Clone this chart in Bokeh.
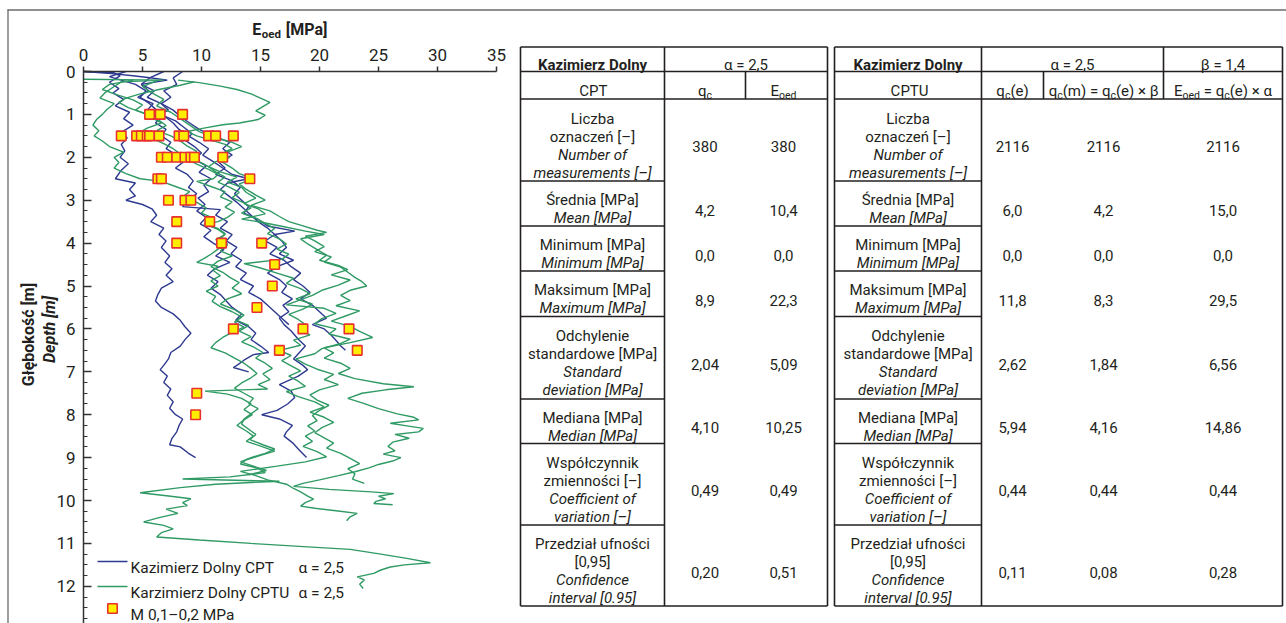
from bokeh.plotting import figure
from bokeh.models import Range1d, LinearAxis, FixedTicker, ColumnDataSource
from bokeh.core.properties import value
from bokeh.embed import file_html
from bokeh.resources import INLINE

FONT = "Roboto"
BLUE = "#2e3a8f"
GREEN = "#2f9a64"
INK = "#231f20"

# ---------------- profiles: (depth [m], E_oed [MPa]) ----------------
cpt_1 = [(0.0,0.0),(0.03,2.6),(0.1,3.1),(0.25,2.2),(0.4,3.0),(0.5,2.5),(0.65,3.4),(0.8,2.7),(0.95,3.9),(1.1,3.4),(1.25,4.2),(1.4,3.3),(1.55,3.7),(1.7,3.2),(1.85,3.5),(2.0,3.1),(2.15,3.8),(2.3,3.2),(2.5,2.7),(2.6,4.4),(2.75,3.9),(2.9,4.4),(3.0,3.6),(3.1,5.0),(3.2,5.8),(3.35,6.2),(3.5,5.7),(3.65,6.8),(3.8,6.4),(3.95,7.0),(4.1,6.6),(4.3,7.3),(4.45,6.9),(4.6,7.5),(4.75,7.0),(4.9,7.6),(5.05,6.6),(5.2,6.3),(5.35,6.1),(5.5,6.6),(5.65,7.6),(5.8,8.2),(5.95,8.6),(6.1,9.1),(6.25,8.6),(6.4,8.2),(6.55,7.4),(6.7,7.2),(6.85,6.8),(6.95,6.5),(7.1,7.1),(7.25,6.8),(7.4,7.4),(7.55,7.1),(7.7,7.6),(7.85,7.3),(8.0,7.8),(8.1,8.4),(8.25,8.1),(8.4,7.9),(8.55,7.5),(8.7,7.3),(8.75,8.2),(8.9,8.9),(9.0,9.5)]
cpt_2 = [(0.0,8.4),(0.15,7.6),(0.3,7.9),(0.45,6.8),(0.6,7.4),(0.75,6.6),(0.9,7.2),(1.0,6.5),(1.15,7.8),(1.3,8.5),(1.45,9.2),(1.6,8.6),(1.75,9.4),(1.9,10.0),(2.05,9.4),(2.2,10.4),(2.35,9.8),(2.5,10.8),(2.65,10.2),(2.8,10.6),(2.95,9.7),(3.1,10.3),(3.25,9.6),(3.4,10.4),(3.55,9.9),(3.7,10.8),(3.85,10.2),(4.0,11.0),(4.15,11.9),(4.3,11.2),(4.45,12.4),(4.6,11.1),(4.75,10.5),(4.9,11.4),(5.05,10.8),(5.2,11.6),(5.35,12.1),(5.5,12.6),(5.65,13.4),(5.8,12.9),(5.95,14.0),(6.1,14.6),(6.25,14.2),(6.4,15.0),(6.55,15.7),(6.6,14.4),(6.73,13.6),(6.85,13.0),(6.9,12.7),(7.0,14.0)]
cpt_3 = [(0.0,6.8),(0.15,5.6),(0.3,4.9),(0.45,6.0),(0.6,5.4),(0.75,6.6),(0.9,7.6),(1.05,8.2),(1.2,9.0),(1.35,9.8),(1.5,11.0),(1.65,12.4),(1.8,11.8),(1.95,12.6),(2.1,11.4),(2.25,12.0),(2.4,11.2),(2.55,12.6),(2.7,13.3),(2.85,12.8),(3.0,13.4),(3.15,14.0),(3.3,13.6),(3.45,14.8),(3.6,15.6),(3.72,17.9),(3.8,16.2),(3.95,16.8),(4.1,17.2),(4.25,16.6),(4.4,17.8),(4.55,16.4),(4.7,15.6),(4.85,16.6),(5.0,17.2),(5.15,16.8),(5.3,17.7),(5.45,16.9),(5.6,17.4),(5.75,16.6),(5.9,17.0),(6.05,17.6),(6.24,18.2),(6.4,18.8),(6.55,18.3),(6.7,17.8),(6.85,18.6),(6.95,19.0),(7.1,18.2),(7.3,16.6),(7.45,17.6),(7.6,17.9),(7.75,17.3),(7.9,16.4),(8.0,15.1),(8.1,16.6),(8.25,17.7),(8.4,17.2),(8.5,17.0),(8.65,17.7),(8.8,18.2),(9.0,18.9)]
cpt_4 = [(0.0,3.6),(0.12,2.2),(0.3,4.4),(0.45,5.3),(0.6,4.8),(0.75,5.6),(0.9,6.2),(1.05,6.9),(1.2,7.6),(1.35,8.1),(1.5,8.9),(1.65,9.8),(1.8,10.6),(1.95,10.1),(2.1,11.0),(2.25,11.8),(2.4,12.6),(2.5,14.0),(2.6,12.2),(2.75,11.6),(2.9,12.3),(3.05,13.0),(3.2,13.6),(3.35,14.2),(3.5,14.8),(3.65,15.6),(3.8,16.2),(3.95,15.4),(4.1,16.4),(4.25,15.8),(4.4,17.0),(4.55,17.6),(4.7,18.4),(4.85,17.8),(5.0,18.6),(5.15,19.2),(5.3,18.4),(5.45,19.4),(5.6,20.0),(5.75,20.6),(5.9,19.4),(6.0,20.4),(6.15,21.0),(6.3,21.5),(6.4,21.8),(6.5,22.2)]
cpt_5 = [(0.0,0.0),(0.05,2.4),(0.1,4.2),(0.15,5.8),(0.2,7.1),(0.3,4.9),(0.45,5.5),(0.6,4.6),(0.75,5.9),(0.9,5.4),(1.05,6.6),(1.2,6.1),(1.35,7.0),(1.5,6.6),(1.65,7.4),(1.8,7.0),(1.95,7.9),(2.1,8.5),(2.25,7.8),(2.4,8.8),(2.55,9.3),(2.7,8.9),(2.85,9.6),(3.0,8.8),(3.15,8.4),(3.22,11.6),(3.35,11.2),(3.5,12.2),(3.65,11.6),(3.8,12.6),(3.95,12.1),(4.1,13.0),(4.25,12.5),(4.4,13.4),(4.55,12.9),(4.7,13.8),(4.85,13.3),(5.0,14.4),(5.15,14.0),(5.3,15.0),(5.45,15.6),(5.6,16.2),(5.75,16.8),(5.9,17.4)]

cptu_1 = [(0.18,0.0),(0.2,6.8),(0.24,3.2),(0.35,2.6),(0.5,1.8),(0.62,1.4),(0.75,2.6),(0.88,2.0),(1.0,1.6),(1.12,1.1),(1.25,0.8),(1.38,1.3),(1.5,0.9),(1.62,1.6),(1.75,2.2),(1.88,3.4),(2.0,2.6),(2.12,3.0),(2.25,2.6),(2.38,3.6),(2.5,4.8),(2.56,6.6),(2.68,7.8),(2.8,9.0),(2.92,8.4),(3.05,9.6),(3.18,10.4),(3.3,10.0),(3.42,11.0),(3.55,10.3),(3.68,11.4),(3.8,12.0),(3.92,11.2),(4.05,12.2),(4.18,11.6),(4.3,12.6),(4.42,11.4),(4.55,10.8),(4.68,11.8),(4.8,12.4),(4.92,13.2),(5.05,12.6),(5.18,13.4),(5.3,12.2),(5.42,11.6),(5.55,12.8),(5.68,13.6),(5.8,13.0),(5.92,14.0),(6.05,13.2),(6.18,14.2),(6.3,13.4),(6.42,14.4),(6.55,15.2),(6.68,14.6),(6.8,15.4),(6.92,16.0),(7.05,15.2),(7.18,15.8),(7.3,14.8),(7.4,15.6),(7.45,10.3),(7.52,12.2),(7.62,13.4),(7.75,14.2),(7.88,13.6),(8.0,14.3),(8.12,13.6),(8.25,13.0),(8.38,13.8),(8.5,14.4),(8.62,13.8),(8.75,15.2),(8.85,16.2),(8.95,15.0),(9.05,13.8),(9.15,13.3),(9.25,14.8),(9.35,15.4),(9.45,12.4),(9.5,8.4),(9.55,16.6),(9.62,11.2),(9.7,8.2),(9.82,4.8),(9.9,7.4),(9.96,9.1),(10.05,8.4),(10.12,8.8),(10.2,7.0),(10.3,8.0),(10.4,6.4),(10.5,5.1),(10.58,6.8),(10.66,7.6),(10.75,6.6),(10.85,6.2),(10.92,9.8),(11.0,14.2),(11.08,19.0),(11.14,22.6),(11.25,25.2),(11.35,27.4),(11.45,29.4),(11.5,27.2),(11.55,26.0),(11.62,25.2),(11.7,24.6),(11.78,23.2),(11.85,23.8),(11.95,23.4),(12.05,23.7)]
cptu_2 = [(0.2,8.0),(0.26,9.8),(0.34,11.6),(0.42,13.0),(0.52,14.2),(0.62,15.0),(0.72,15.8),(0.82,15.2),(0.92,14.6),(1.02,15.4),(1.12,14.8),(1.2,13.2),(1.24,11.8),(1.32,10.2),(1.4,8.8),(1.5,9.6),(1.6,10.8),(1.7,12.0),(1.8,12.6),(1.9,11.8),(2.0,12.4),(2.1,11.2),(2.22,10.6),(2.34,11.6),(2.46,13.0),(2.58,12.2),(2.7,13.4),(2.82,13.8),(2.95,14.6),(3.08,13.6),(3.2,14.8),(3.32,15.4),(3.44,13.4),(3.52,15.2),(3.62,17.0),(3.72,18.8),(3.8,20.4),(3.9,18.4),(4.02,19.0),(4.15,19.8),(4.28,20.6),(4.4,20.0),(4.52,21.6),(4.62,22.4),(4.74,21.0),(4.86,22.6),(4.98,21.6),(5.1,20.2),(5.22,19.4),(5.34,18.2),(5.44,17.2),(5.52,20.4),(5.64,21.4),(5.76,20.2),(5.88,19.6),(6.0,21.4),(6.12,20.8),(6.24,22.6),(6.34,21.8),(6.46,20.2),(6.58,19.6),(6.7,18.0),(6.82,18.8),(6.94,19.8),(7.06,21.2),(7.18,20.4),(7.3,21.6),(7.42,20.0),(7.54,19.2),(7.66,19.8),(7.78,20.8),(7.9,20.0),(8.02,19.4),(8.14,19.8),(8.26,19.0),(8.38,19.6),(8.5,18.8),(8.62,19.4),(8.74,18.6),(8.86,19.8),(8.98,20.6),(9.1,18.8),(9.2,16.4),(9.32,13.3),(9.42,14.6),(9.52,15.6),(9.62,17.2),(9.72,17.8),(9.8,18.4),(9.9,19.0),(9.97,19.5),(10.05,18.8),(10.13,18.4),(10.18,19.6),(10.24,21.4),(10.3,23.2),(10.38,22.6),(10.47,22.3)]
cptu_3 = [(0.22,6.2),(0.35,5.0),(0.5,5.8),(0.65,6.8),(0.8,6.2),(0.95,7.4),(1.1,8.2),(1.25,9.0),(1.4,9.8),(1.55,11.2),(1.65,12.6),(1.75,13.4),(1.88,12.2),(2.0,11.4),(2.12,11.8),(2.25,12.6),(2.38,13.2),(2.5,14.4),(2.62,13.2),(2.75,13.8),(2.88,14.6),(3.0,15.4),(3.12,14.2),(3.25,15.8),(3.38,16.6),(3.5,17.4),(3.6,18.6),(3.7,19.8),(3.75,20.6),(3.84,18.8),(3.95,19.6),(4.08,20.4),(4.2,19.6),(4.32,21.0),(4.44,20.4),(4.56,21.8),(4.68,22.4),(4.8,23.0),(4.9,23.6),(5.0,24.0),(5.1,22.6),(5.22,21.8),(5.34,22.6),(5.46,21.4),(5.58,23.4),(5.7,22.2),(5.82,21.0),(5.94,22.6),(6.06,23.4),(6.2,24.5),(6.32,22.6),(6.44,20.4),(6.56,21.2),(6.68,20.4),(6.8,21.8),(6.92,22.6),(7.04,21.6),(7.16,23.0),(7.28,25.4),(7.35,28.0),(7.42,25.6),(7.5,23.6),(7.62,22.4),(7.74,23.8),(7.86,25.0),(7.98,26.6),(8.06,28.0),(8.12,28.4),(8.2,26.0),(8.26,27.4),(8.32,28.8),(8.4,28.4),(8.46,26.4),(8.55,27.6),(8.64,26.2),(8.74,25.8),(8.84,26.4),(8.92,25.4),(9.0,26.9),(9.08,26.2),(9.16,25.0),(9.24,24.2),(9.33,23.0),(9.42,21.6),(9.52,20.0),(9.6,18.6),(9.67,17.8),(9.74,20.8),(9.8,24.4),(9.84,26.3),(9.9,25.0),(9.96,25.6),(10.02,24.8),(10.07,24.6),(10.1,26.2)]
cptu_4 = [(0.24,9.4),(0.32,8.2),(0.42,6.4),(0.52,4.8),(0.62,3.6),(0.72,3.0),(0.84,3.8),(0.96,5.0),(1.08,5.8),(1.2,6.6),(1.32,5.4),(1.44,4.6),(1.56,5.8),(1.68,6.8),(1.8,7.6),(1.92,8.2),(2.04,8.8),(2.16,9.6),(2.28,10.6),(2.4,11.4),(2.5,11.0),(2.56,9.6),(2.68,10.8),(2.8,12.0),(2.92,11.6),(3.04,12.6),(3.16,12.0),(3.28,12.8),(3.4,12.2),(3.5,11.4),(3.56,10.2),(3.66,11.4),(3.78,12.0),(3.9,11.6),(4.02,12.2),(4.14,11.4),(4.26,10.8),(4.36,10.2),(4.45,9.6),(4.54,11.4),(4.64,11.0),(4.76,11.6),(4.88,10.8),(5.0,11.4),(5.12,10.4),(5.24,11.2),(5.36,10.9),(5.48,11.6),(5.6,12.6),(5.72,13.4),(5.84,12.8),(5.96,13.6),(6.08,12.6),(6.2,11.8),(6.32,11.2),(6.44,10.8),(6.56,12.0),(6.68,12.8),(6.8,13.6),(6.92,14.2),(7.04,14.7),(7.14,14.2),(7.26,13.4),(7.38,12.8),(7.5,13.6),(7.62,14.4),(7.74,14.0),(7.86,14.8),(7.98,14.2),(8.1,13.6),(8.22,13.4),(8.34,14.0),(8.46,14.6),(8.58,14.1),(8.7,15.2),(8.8,16.2),(8.9,15.4),(9.0,14.2),(9.1,13.3),(9.2,14.4),(9.3,15.5),(9.4,14.0)]
cptu_5 = [(0.2,4.2),(0.3,2.2),(0.42,1.6),(0.54,2.8),(0.66,4.2),(0.78,5.0),(0.9,4.4),(1.02,5.6),(1.14,6.4),(1.26,7.0),(1.38,6.2),(1.5,7.4),(1.62,8.2),(1.74,8.8),(1.86,9.6),(1.98,9.0),(2.1,9.8),(2.22,10.6),(2.34,11.2),(2.46,12.0),(2.58,11.4),(2.7,12.4),(2.82,13.2),(2.94,12.6),(3.06,13.6),(3.18,14.2),(3.3,13.4),(3.42,14.6),(3.54,15.4),(3.66,16.2),(3.78,15.6),(3.9,16.6),(4.02,17.2),(4.14,16.4),(4.26,17.4),(4.38,16.8),(4.48,13.6),(4.58,15.0),(4.7,16.4),(4.82,17.8),(4.94,17.2),(5.06,18.4),(5.18,19.2),(5.3,18.0),(5.42,19.4),(5.54,18.6),(5.66,17.4),(5.78,18.2),(5.9,18.8),(6.02,18.2),(6.14,19.2),(6.26,17.8),(6.38,18.4),(6.5,16.6),(6.62,17.6),(6.74,16.8),(6.86,17.6),(6.98,18.4),(7.1,17.4),(7.22,18.2),(7.34,18.8),(7.46,17.2),(7.58,18.2),(7.7,19.6),(7.82,20.4),(7.94,19.2),(8.06,20.4),(8.18,21.2),(8.3,20.2),(8.42,19.6),(8.54,20.4),(8.66,21.2),(8.78,20.6),(8.9,21.8),(9.02,22.6),(9.14,23.4),(9.26,22.4),(9.38,23.0),(9.5,22.8),(9.6,23.8)]

cpt_profiles = [cpt_1, cpt_2, cpt_3, cpt_4, cpt_5]
cptu_profiles = [cptu_1, cptu_2, cptu_3, cptu_4, cptu_5]

# oedometer moduli M for 0.1-0.2 MPa
oed_depth = [1.0, 1.0, 1.0,
             1.5, 1.5, 1.5, 1.5, 1.5, 1.5, 1.5, 1.5, 1.5, 1.5, 1.5,
             2.0, 2.0, 2.0, 2.0, 2.0, 2.0, 2.0,
             2.5, 2.5, 2.5, 3.0, 3.0, 3.0, 3.5, 3.5,
             4.0, 4.0, 4.0, 4.5, 5.0, 5.5,
             6.0, 6.0, 6.0, 6.5, 6.5, 7.5, 8.0]
oed_modulus = [5.6, 6.5, 8.4,
               3.2, 4.5, 4.9, 5.4, 5.6, 6.4, 8.1, 8.5, 10.6, 11.2, 12.7,
               6.6, 7.1, 7.9, 8.6, 9.1, 9.4, 11.8,
               6.3, 6.6, 14.1, 7.2, 8.6, 9.1, 7.9, 10.7,
               7.9, 11.7, 15.1, 16.2, 16.0, 14.7,
               12.7, 18.6, 22.5, 16.6, 23.2, 9.6, 9.5]

x_tick_values = [0, 5, 10, 15, 20, 25, 30, 35]
y_tick_values = list(range(0, 13))
y_minor_values = [i / 4 for i in range(0, 53)]

# ---------------- statistics tables ----------------
row_labels_pl = [["Liczba", "oznaczeń [–]"], ["Średnia [MPa]"], ["Minimum [MPa]"],
                 ["Maksimum [MPa]"], ["Odchylenie", "standardowe [MPa]"],
                 ["Mediana [MPa]"], ["Współczynnik", "zmienności [–]"],
                 ["Przedział ufności", "[0,95]"]]
row_labels_en = [["Number of", "measurements [–]"], ["Mean [MPa]"], ["Minimum [MPa]"],
                 ["Maximum [MPa]"], ["Standard", "deviation [MPa]"],
                 ["Median [MPa]"], ["Coefficient of", "variation [–]"],
                 ["Confidence", "interval [0.95]"]]
cpt_qc = ["380", "4,2", "0,0", "8,9", "2,04", "4,10", "0,49", "0,20"]
cpt_eoed = ["380", "10,4", "0,0", "22,3", "5,09", "10,25", "0,49", "0,51"]
cptu_qc_e = ["2116", "6,0", "0,0", "11,8", "2,62", "5,94", "0,44", "0,11"]
cptu_qc_m = ["2116", "4,2", "0,0", "8,3", "1,84", "4,16", "0,44", "0,08"]
cptu_eoed = ["2116", "15,0", "0,0", "29,5", "6,56", "14,86", "0,44", "0,28"]

# ---------------- canvas ----------------
W, H = 1286, 623
X0, Y0 = 83, 71          # pixel position of E = 0 and depth = 0
PX_MPA, PX_M = 11.8, 42.9

p = figure(width=W, height=H, output_backend="svg", toolbar_location=None,
           x_range=Range1d(-X0 / PX_MPA, (W - X0) / PX_MPA),
           y_range=Range1d((H - Y0) / PX_M, -Y0 / PX_M),
           x_axis_location=None, y_axis_location=None, min_border=0)
p.outline_line_color = None
p.background_fill_color = "white"
p.border_fill_color = "white"
for g in p.xgrid + p.ygrid:
    g.visible = False
p.extra_x_ranges = {"px": Range1d(0, W)}
p.extra_y_ranges = {"px": Range1d(H, 0)}
PX = dict(x_range_name="px", y_range_name="px")

# axes
xax = LinearAxis(fixed_location=0, bounds=(0, 35),
                 ticker=FixedTicker(ticks=x_tick_values, minor_ticks=[]))
xax.major_tick_in = 0
xax.major_tick_out = 5
xax.minor_tick_in = 0
xax.minor_tick_out = 0
xax.major_label_standoff = 6
p.add_layout(xax, "above")

yax = LinearAxis(fixed_location=0, bounds=(0, 13),
                 ticker=FixedTicker(ticks=y_tick_values, minor_ticks=y_minor_values))
yax.major_tick_in = 8
yax.major_tick_out = 0
yax.minor_tick_in = 4
yax.minor_tick_out = 0
yax.major_label_standoff = 8
p.add_layout(yax, "left")

for ax in (xax, yax):
    ax.axis_line_color = "#333333"
    ax.axis_line_width = 1.5
    ax.major_tick_line_color = "#333333"
    ax.major_tick_line_width = 1.5
    ax.minor_tick_line_color = "#333333"
    ax.minor_tick_line_width = 1.2
    ax.major_label_text_font = FONT
    ax.major_label_text_font_size = "17px"
    ax.major_label_text_color = INK

# profiles
for prof in cpt_profiles:
    p.line([e for d, e in prof], [d for d, e in prof], line_color=BLUE, line_width=1.4)
for prof in cptu_profiles:
    p.line([e for d, e in prof], [d for d, e in prof], line_color=GREEN, line_width=1.4)

p.scatter(oed_modulus, oed_depth, marker="square", size=9.5,
          fill_color="#ffee00", line_color="#e8312f", line_width=1.6)

# ---------------- text helpers (pixel coordinates) ----------------
texts = {}


def put(x, y, s, size=15, style="normal", align="left", baseline="alphabetic",
        angle=0.0, color=INK):
    key = (size, style, align, baseline, angle, color)
    d = texts.setdefault(key, {"x": [], "y": [], "text": []})
    d["x"].append(x)
    d["y"].append(y)
    d["text"].append(s)


ADV = {" ": 248, "(": 342, ")": 348, "=": 549, "×": 533, "q": 570, "c": 523,
       "e": 529, "m": 876, "E": 567, "o": 570, "d": 572, "α": 580, "β": 580,
       ",": 196, "[": 266, "]": 266, "M": 872, "P": 631, "a": 544}


def adv(s, size, bold=False):
    w = sum(ADV.get(c, 562) for c in s) * size / 1000
    return w * (1.04 if bold else 1.0)


def put_rich(cx, y, pieces, size=15, sub=10.5, style="normal"):
    bold = "bold" in style
    total = sum(adv(t, sub if s else size, bold) for t, s in pieces)
    x = cx - total / 2
    for t, s in pieces:
        sz = sub if s else size
        core = t.strip()
        lead = len(t) - len(t.lstrip())
        trail = len(t) - len(t.rstrip()) if core else 0
        x += adv(" " * lead, sz, bold)
        put(x, y + (4 if s else 0), core, size=sz, style=style)
        x += adv(core, sz, bold) + adv(" " * trail, sz, bold)


# titles of the chart
put_rich(290, 29, [("E", False), ("oed", True), (" [MPa]", False)], size=16, sub=11.5, style="bold")
put(28, 334, "Głębokość [m]", size=16, style="bold", align="center", angle=1.5708)
put(49, 329, "Depth [m]", size=16, style="bold italic", align="center", angle=1.5708)

# legend
p.segment([97, 97], [561, 586], [127, 127], [561, 586],
          line_color=[BLUE, GREEN], line_width=1.4, **PX)
p.scatter([112], [608], marker="square", size=9.5, fill_color="#ffee00",
          line_color="#e8312f", line_width=1.6, **PX)
put(130, 567, "Kazimierz Dolny CPT", size=15.5)
put(298, 567, "α = 2,5", size=15.5)
put(130, 592, "Karzimierz Dolny CPTU", size=15.5)
put(298, 592, "α = 2,5", size=15.5)
put(130, 614, "M 0,1–0,2 MPa", size=15.5)

# page frame
p.segment([7, 7.5], [9.5, 9], [W, 7.5], [9.5, H], line_color="#6b6b6b", line_width=1.3, **PX)

# tables
row_edges = [98.5, 180.5, 225.5, 270.5, 316, 398.5, 443, 524.5, 605.5]
TOP, MID = 46.5, 71
LINE = dict(line_color=INK, line_width=1.6, **PX)


def draw_table(xs, splits_row1, value_cols, head_row1, head_row2):
    left, label_r, right = xs[0], xs[1], xs[-1]
    bottom = row_edges[-1]
    x0s, y0s, x1s, y1s = [], [], [], []

    def seg(a, b, c, d):
        x0s.append(a); y0s.append(b); x1s.append(c); y1s.append(d)

    # outer box
    seg(left, TOP, right, TOP)
    seg(left, bottom, right, bottom)
    seg(left, TOP, left, bottom)
    seg(right, TOP, right, bottom)
    # header rules
    seg(left, MID, right, MID)
    seg(left, row_edges[0], right, row_edges[0])
    seg(label_r, TOP, label_r, bottom)
    for xv in xs[2:-1]:
        seg(xv, TOP if xv in splits_row1 else MID, xv, row_edges[0])
    # label column rules
    for yv in row_edges[1:-1]:
        seg(left, yv, label_r, yv)
    p.segment(x0s, y0s, x1s, y1s, **LINE)

    # header texts
    put((left + label_r) / 2, (TOP + MID) / 2 + 6, "Kazimierz Dolny", size=15,
        style="bold", align="center")
    for cx, s in head_row1:
        put(cx, (TOP + MID) / 2 + 6, s, size=15, align="center")
    for cx, pieces in head_row2:
        put_rich(cx, (MID + row_edges[0]) / 2 + 6, pieces)

    # body
    lab_cx = (left + label_r) / 2
    for i in range(len(row_labels_pl)):
        top, bot = row_edges[i], row_edges[i + 1]
        cy = (top + bot) / 2
        lines = [(s, "normal") for s in row_labels_pl[i]] + \
                [(s, "italic") for s in row_labels_en[i]]
        n = len(lines)
        for k, (s, st) in enumerate(lines):
            put(lab_cx, cy + (k - (n - 1) / 2) * 18 + 5.5, s, size=15, style=st,
                align="center")
        for cx, vals in value_cols:
            put(cx, cy + 6.5, vals[i], size=15, align="center")


draw_table([520, 664, 745, 827], [],
           [(704.5, cpt_qc), (783, cpt_eoed)],
           [((664 + 827) / 2, "α = 2,5")],
           [((520 + 664) / 2, [("CPT", False)]), (704.5, [("q", False), ("c", True)]),
            (783, [("E", False), ("oed", True)])])

draw_table([834, 981, 1043, 1163, 1282], [1163],
           [(1012, cptu_qc_e), (1103, cptu_qc_m), (1222.5, cptu_eoed)],
           [((981 + 1163) / 2, "α = 2,5"), ((1163 + 1282) / 2, "β = 1,4")],
           [((834 + 981) / 2, [("CPTU", False)]),
            (1012, [("q", False), ("c", True), ("(e)", False)]),
            (1103, [("q", False), ("c", True), ("(m) = q", False), ("c", True),
                    ("(e) × β", False)]),
            (1222.5, [("E", False), ("oed", True), (" = q", False), ("c", True),
                      ("(e) × α", False)])])

for (size, style, align, baseline, angle, color), d in texts.items():
    p.text(x="x", y="y", text="text", source=ColumnDataSource(d),
           text_font=value(FONT), text_font_size=value(f"{size}px"),
           text_font_style=value(style), text_align=value(align),
           text_baseline=value(baseline), angle=angle, text_color=color, **PX)

open("out.html", "w").write(file_html(p, INLINE))
